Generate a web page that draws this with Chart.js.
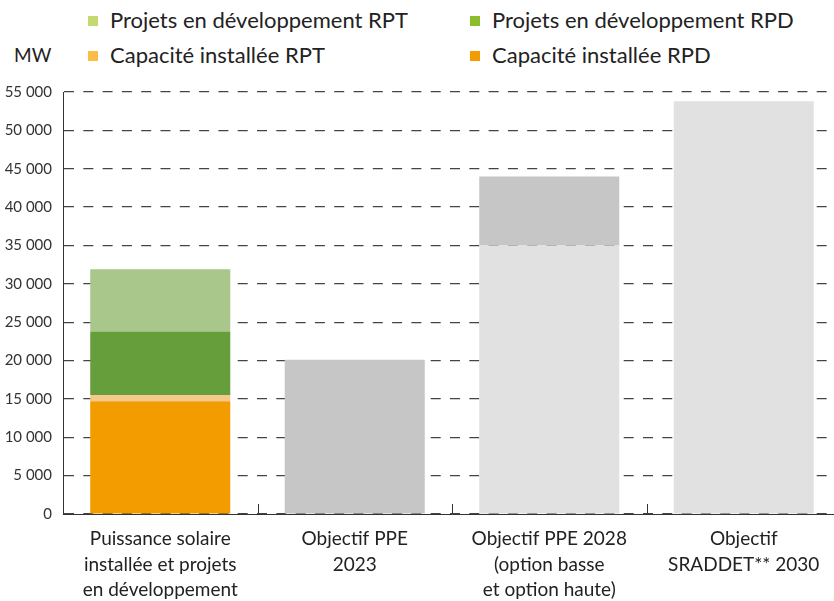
<!DOCTYPE html>
<html lang="fr">
<head>
  <meta charset="UTF-8">
  <title>Puissance solaire</title>
  <script src="https://cdn.jsdelivr.net/npm/chart.js@4/dist/chart.umd.min.js"></script>
  <style>
    body { margin: 0; overflow: hidden; background: #fff; font-family: Lato, sans-serif; }
    #wrap { position: absolute; left: 0; top: 0; width: 842px; height: 601px; }
    .leg { position: absolute; font-size: 22px; color: #222; white-space: nowrap; line-height: 24px; }
    .leg i { display: inline-block; width: 10px; height: 10px; margin-right: 12px; vertical-align: 2px; }
    #mw { position: absolute; left: 14px; top: 43px; font-size: 19px; color: #222; }
  </style>
</head>
<body>
  <div id="mw">MW</div>
  <div id="legend"></div>
  <div id="wrap"><canvas id="myChart"></canvas></div>
  <script>
    const categories = [
      ['Puissance solaire', 'installée et projets', 'en développement'],
      ['Objectif PPE', '2023'],
      ['Objectif PPE 2028', '(option basse', 'et option haute)'],
      ['Objectif', 'SRADDET** 2030']
    ]
    // MW
    const installeRPD = [14700, null, null, null]
    const installeRPT = [800, null, null, null]
    const projetsRPD = [8300, null, null, null]
    const projetsRPT = [8100, null, null, null]
    const objectifBas = [null, null, 35000, 53800]
    const objectifHaut = [null, 20100, 9000, null]

    const legendItems = [
      { label: 'Projets en développement RPT', color: '#c4d96f', x: 88, y: 8 },
      { label: 'Projets en développement RPD', color: '#8dbd2b', x: 470, y: 8 },
      { label: 'Capacité installée RPT', color: '#fbbd44', x: 88, y: 43 },
      { label: 'Capacité installée RPD', color: '#f39c00', x: 470, y: 43 }
    ]
    const legend = document.getElementById('legend')
    legendItems.forEach(e => {
      const d = document.createElement('div')
      d.className = 'leg'
      d.style.left = e.x + 'px'
      d.style.top = e.y + 'px'
      d.innerHTML = `<i style="background:${e.color}"></i>${e.label}`
      legend.appendChild(d)
    })

    // petits traits verticaux entre catégories, au-dessus de l'axe
    const catTicks = {
      id: 'catTicks',
      afterDatasetsDraw(chart) {
        const x = chart.scales.x, ctx = chart.ctx
        const bottom = chart.chartArea.bottom
        ctx.save()
        ctx.strokeStyle = '#333'
        ctx.lineWidth = 1
        for (let i = 1; i < categories.length; i++) {
          const px = Math.round((x.getPixelForValue(i - 1) + x.getPixelForValue(i)) / 2) + 0.5
          ctx.beginPath()
          ctx.moveTo(px, bottom)
          ctx.lineTo(px, bottom - 10)
          ctx.stroke()
        }
        ctx.restore()
      }
    }

    const ds = (label, data, color) => ({
      label, data, backgroundColor: color, borderWidth: 0,
      barPercentage: 0.72, categoryPercentage: 1
    })

    new Chart(document.getElementById('myChart'), {
      type: 'bar',
      data: {
        labels: categories,
        datasets: [
          ds('Capacité installée RPD', installeRPD, '#f39c00'),
          ds('Capacité installée RPT', installeRPT, '#f3c98e'),
          ds('Projets en développement RPD', projetsRPD, '#679e3c'),
          ds('Projets en développement RPT', projetsRPT, '#a9c78b'),
          ds('Objectif', objectifBas, '#e1e1e1'),
          ds('Objectif', objectifHaut, '#c6c6c6')
        ]
      },
      plugins: [catTicks],
      options: {
        responsive: true,
        maintainAspectRatio: false,
        animation: false,
        layout: { padding: { top: 92, right: 1, left: 0, bottom: 0 } },
        plugins: { legend: { display: false }, tooltip: { enabled: false } },
        scales: {
          x: {
            stacked: true,
            afterFit: s => { s.height = 87 },
            grid: { display: false },
            border: { display: true, color: '#333', width: 1 },
            ticks: {
              color: '#222', padding: 4,
              font: { family: 'Lato', size: 19, lineHeight: 1.35 },
              maxRotation: 0, autoSkip: false
            }
          },
          y: {
            stacked: true,
            min: 0, max: 55000,
            afterFit: s => { s.width = 63 },
            border: { display: true, color: '#333', width: 1, dash: [10, 9.3] },
            grid: { color: '#444', lineWidth: 1.2, drawTicks: false },
            ticks: {
              stepSize: 5000, color: '#333', padding: 11,
              font: { family: 'Lato', size: 15 },
              callback: v => v.toString().replace(/\B(?=(\d{3})+(?!\d))/g, ' ')
            }
          }
        }
      }
    })
  </script>
</body>
</html>
